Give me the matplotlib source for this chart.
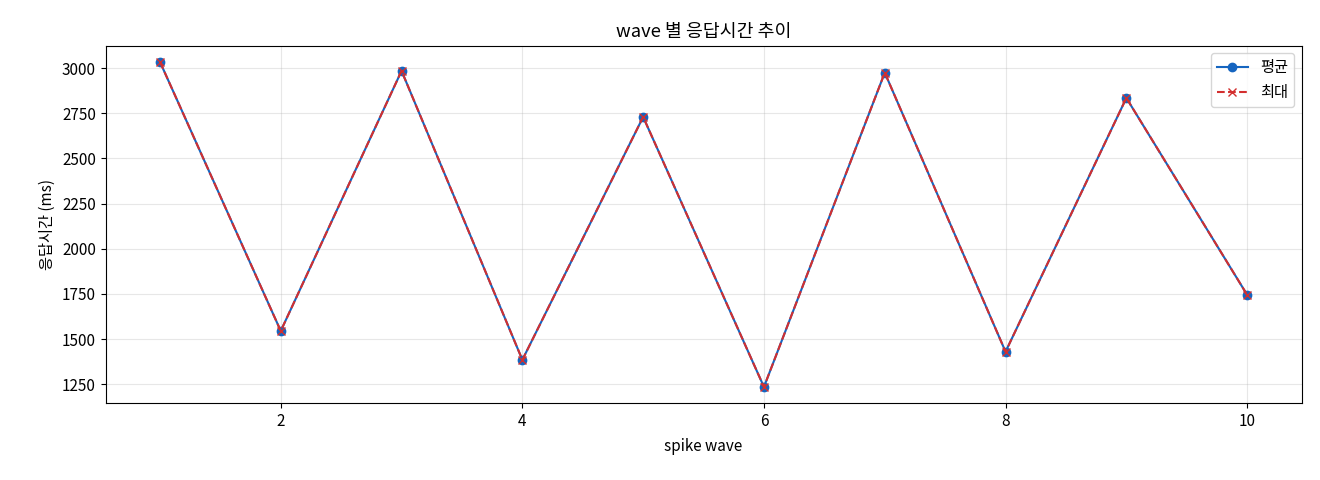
import matplotlib
matplotlib.use("Agg")
import matplotlib.pyplot as plt

plt.rcParams['font.family'] = ['Noto Sans CJK KR', 'DejaVu Sans']
plt.rcParams['axes.unicode_minus'] = False
plt.rcParams['font.size'] = 11

waves = [1, 2, 3, 4, 5, 6, 7, 8, 9, 10]
avg_ms = [3035, 1545, 2985, 1385, 2730, 1235, 2975, 1430, 2835, 1745]
max_ms = [3035, 1545, 2985, 1385, 2730, 1235, 2975, 1430, 2835, 1745]

fig, ax = plt.subplots(figsize=(13.2, 4.8), dpi=100)
fig.subplots_adjust(left=0.08, right=0.986, top=0.905, bottom=0.16)
ax.plot(waves, avg_ms, marker="o", color="#1565c0", label="평균")
ax.plot(waves, max_ms, marker="x", linestyle="--", color="#d32f2f", label="최대")
ax.set_title("wave 별 응답시간 추이")
ax.set_xlabel("spike wave", labelpad=6)
ax.set_ylabel("응답시간 (ms)")
ax.grid(True, alpha=0.3)
ax.legend(loc="upper right")
fig.savefig("out.png", dpi=100)
